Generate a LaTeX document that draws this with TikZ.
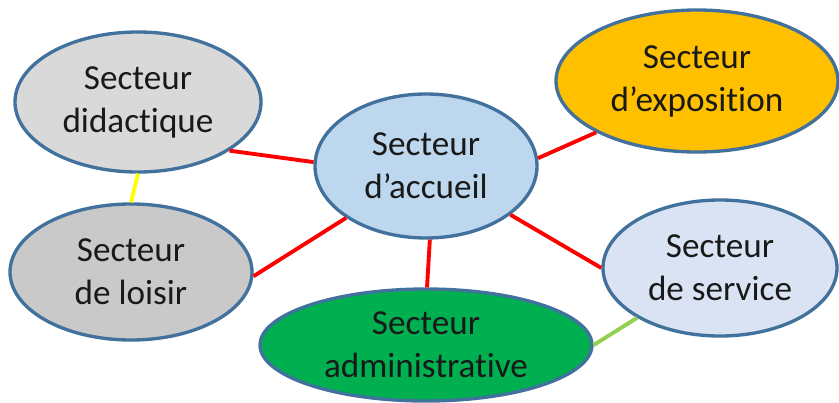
\documentclass[tikz,border=0pt]{standalone}
\usepackage{fontspec}
\setmainfont[Ligatures=NoCommon]{Carlito}
\usepackage{tikz}
\usetikzlibrary{shapes.geometric}
\usepackage{xcolor}
\definecolor{rimBlue}{HTML}{41719C}
\definecolor{didGray}{HTML}{D9D9D9}
\definecolor{loiGray}{HTML}{C9C9C9}
\definecolor{accBlue}{HTML}{BDD7EE}
\definecolor{expOrange}{HTML}{FFC000}
\definecolor{serBlue}{HTML}{DAE3F3}
\definecolor{admGreen}{HTML}{00B050}
\definecolor{linkRed}{HTML}{FF0000}
\definecolor{linkYellow}{HTML}{FFFF00}
\definecolor{linkGreen}{HTML}{92D050}

\begin{document}
\begin{tikzpicture}[
        sector/.style={ellipse, draw=rimBlue, line width=1.9pt, inner sep=0pt, align=center,
                       font=\fontsize{20}{24.5}\selectfont, text=black!90},
        link/.style={line width=2.2pt, linkRed}
      ]
      \useasboundingbox (0,0) rectangle (16.78,8.04);
      \node[sector, fill=accBlue, minimum width=4.44cm, minimum height=2.88cm] (acc) at (8.52,4.72) {Secteur\\d'accueil};
      \node[sector, fill=didGray, minimum width=4.92cm, minimum height=2.80cm] (did) at (2.76,6.00) {Secteur\\didactique};
      \node[sector, fill=loiGray, minimum width=4.84cm, minimum height=2.72cm] (loi) at (2.62,2.60) {Secteur\\de loisir};
      \node[sector, fill=expOrange, minimum width=5.64cm, minimum height=2.84cm] (exp) at (13.94,6.42) {Secteur\\d'exposition};
      \node[sector, fill=serBlue, minimum width=4.68cm, minimum height=2.72cm] (ser) at (14.40,2.68) {Secteur\\de service};
      \node[sector, fill=admGreen, minimum width=6.64cm, minimum height=2.24cm] (adm) at (8.52,1.14) {Secteur\\administrative};
      % liens
      \draw[link] (did.-28) -- (acc.178);
      \draw[link] (loi.-2) -- (acc.213);
      \draw[link] (acc.-87) -- (adm.89);
      \draw[link] (acc.4) -- (exp.207);
      \draw[link] (acc.-30) -- (ser.180);
      \draw[link, linkYellow] (did.-90) -- (loi.90);
      \draw[link, linkGreen] (adm.0) -- (ser.211);
    \end{tikzpicture}
\end{document}
